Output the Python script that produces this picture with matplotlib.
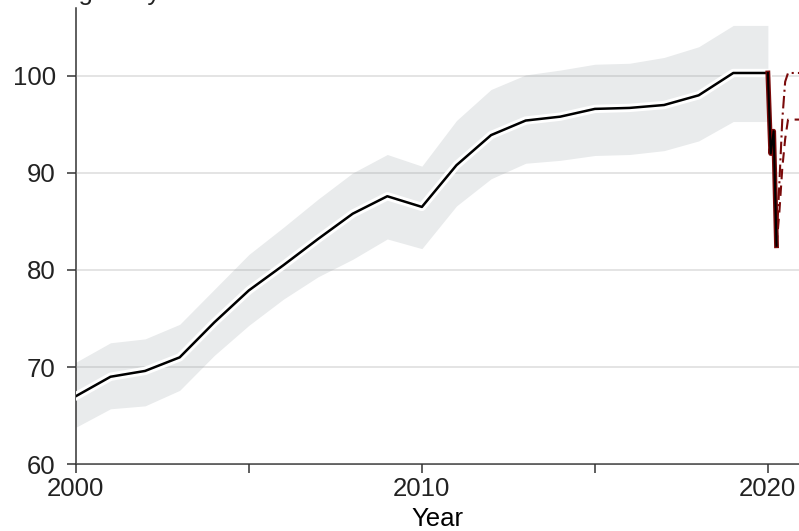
import numpy as np
import matplotlib.pyplot as plt
import matplotlib.patheffects as pe

# Plot parameters
plt.rcParams['font.family'] = ['Liberation Sans', 'DejaVu Sans']
plt.rcParams['font.size'] = 18.5
plt.rcParams['text.color'] = '#222222'

# annual index with its uncertainty band
years = np.arange(2000, 2021)
index = [67.0, 69.0, 69.6, 71.0, 74.6, 77.9, 80.5, 83.2, 85.8, 87.6, 86.5,
         90.8, 93.9, 95.4, 95.8, 96.6, 96.7, 97.0, 98.0, 100.3, 100.3]
upper = [70.5, 72.5, 72.9, 74.4, 78.0, 81.6, 84.4, 87.3, 90.0, 91.9, 90.7,
         95.4, 98.6, 100.1, 100.6, 101.2, 101.3, 101.9, 103.0, 105.2, 105.2]
lower = [63.8, 65.7, 66.0, 67.6, 71.2, 74.3, 77.0, 79.3, 81.1, 83.2, 82.2,
         86.6, 89.4, 91.0, 91.3, 91.8, 91.9, 92.3, 93.3, 95.3, 95.3]

# monthly values in 2020
months_2020 = [2020.0, 2020.083, 2020.167, 2020.25]
index_2020 = [100.3, 92.0, 94.3, 82.5]

# recovery paths from the April trough
path_x = [2020.25, 2020.333, 2020.417, 2020.5, 2020.583, 2021.0]
path_full = [82.5, 89.0, 95.5, 99.4, 100.3, 100.3]
path_partial = [82.5, 86.0, 90.5, 93.5, 95.5, 95.5]

fig = plt.figure(figsize=(7.99, 5.31), dpi=100)
ax = fig.add_axes([0.095, 0.126, 0.905, 0.859])

ax.fill_between(years, lower, upper, color='#e9ebec', lw=0, zorder=1)
ax.grid(axis='y', color='#9a9a9a', alpha=0.35, lw=1.1, zorder=2)
ax.set_axisbelow(False)

halo = [pe.Stroke(linewidth=6, foreground='white'), pe.Normal()]
ax.plot(years, index, color='black', lw=1.8, zorder=4, path_effects=halo,
        solid_joinstyle='round')

red = '#7a0a0a'
ax.plot(path_x, path_full, color=red, lw=1.5, ls=(0, (6, 2, 1, 2)), zorder=3)
ax.plot(path_x, path_partial, color=red, lw=1.5, ls=(0, (5, 3)), zorder=3)
ax.plot(months_2020, index_2020, color=red, lw=3.5, zorder=5)
ax.plot(months_2020, index_2020, color='black', lw=1.5, zorder=6)

ax.set_xlim(2000, 2020.9)
ax.set_ylim(60, 107.0)
ax.set_yticks([60, 70, 80, 90, 100])
ax.set_xticks([2000, 2005, 2010, 2015, 2020])
ax.set_xticklabels(['2000', '', '2010', '', '2020'])
ax.set_xlabel('Year', labelpad=4)

for side in ['top', 'right']:
    ax.spines[side].set_visible(False)
for side in ['left', 'bottom']:
    ax.spines[side].set_color('#333333')
    ax.spines[side].set_linewidth(1.1)
ax.tick_params(axis='both', colors='#333333', labelcolor='#222222',
               length=6.5, width=1.1, direction='out')
ax.tick_params(axis='y', pad=8)
ax.tick_params(axis='x', pad=3)

fig.text(49 / 799, 1.0, 'Avg. daily', va='baseline', ha='left')

fig.savefig('out.png', dpi=100)
